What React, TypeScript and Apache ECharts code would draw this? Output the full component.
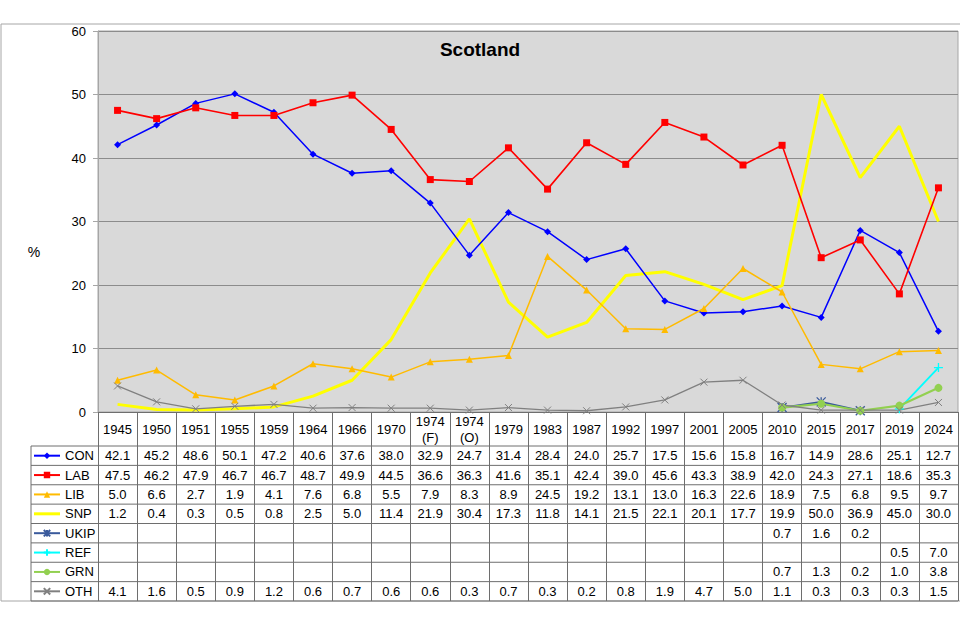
import React, { useEffect, useRef } from "react";
import * as echarts from "echarts";

const categories = ["1945","1950","1951","1955","1959","1964","1966","1970","1974\n(F)","1974\n(O)","1979","1983","1987","1992","1997","2001","2005","2010","2015","2017","2019","2024"];
const CON = [42.1,45.2,48.6,50.1,47.2,40.6,37.6,38.0,32.9,24.7,31.4,28.4,24.0,25.7,17.5,15.6,15.8,16.7,14.9,28.6,25.1,12.7];
const LAB = [47.5,46.2,47.9,46.7,46.7,48.7,49.9,44.5,36.6,36.3,41.6,35.1,42.4,39.0,45.6,43.3,38.9,42.0,24.3,27.1,18.6,35.3];
const LIB = [5.0,6.6,2.7,1.9,4.1,7.6,6.8,5.5,7.9,8.3,8.9,24.5,19.2,13.1,13.0,16.3,22.6,18.9,7.5,6.8,9.5,9.7];
const SNP = [1.2,0.4,0.3,0.5,0.8,2.5,5.0,11.4,21.9,30.4,17.3,11.8,14.1,21.5,22.1,20.1,17.7,19.9,50.0,36.9,45.0,30.0];
const UKIP = [null,null,null,null,null,null,null,null,null,null,null,null,null,null,null,null,null,0.7,1.6,0.2,null,null];
const REF = [null,null,null,null,null,null,null,null,null,null,null,null,null,null,null,null,null,null,null,null,0.5,7.0];
const GRN = [null,null,null,null,null,null,null,null,null,null,null,null,null,null,null,null,null,0.7,1.3,0.2,1.0,3.8];
const OTH = [4.1,1.6,0.5,0.9,1.2,0.6,0.7,0.6,0.6,0.3,0.7,0.3,0.2,0.8,1.9,4.7,5.0,1.1,0.3,0.3,0.3,1.5];
const yTicks = { min: 0, max: 60, interval: 10 };

const FONT = "'Liberation Sans', Arial, sans-serif";

type Row = {
  name: string;
  data: (number | null)[];
  color: string;
  symbol: string;
  size: number;
  width: number;
  border: number;
};

const rows: Row[] = [
  { name: "CON", data: CON, color: "#0000ff", symbol: "diamond", size: 7, width: 1.5, border: 0 },
  { name: "LAB", data: LAB, color: "#ff0000", symbol: "rect", size: 7, width: 1.6, border: 0 },
  { name: "LIB", data: LIB, color: "#ffbb00", symbol: "triangle", size: 7, width: 1.5, border: 0 },
  { name: "SNP", data: SNP, color: "#ffff00", symbol: "none", size: 0, width: 3, border: 0 },
  { name: "UKIP", data: UKIP, color: "#3a5a9c", symbol: "path://M0,0L10,10M10,0L0,10M5,0L5,10", size: 9, width: 1.8, border: 1.3 },
  { name: "REF", data: REF, color: "#00ffff", symbol: "path://M5,0L5,10M0,5L10,5", size: 9, width: 1.8, border: 1.3 },
  { name: "GRN", data: GRN, color: "#92d050", symbol: "circle", size: 8, width: 2.2, border: 0 },
  { name: "OTH", data: OTH, color: "#808080", symbol: "path://M0,0L10,10M10,0L0,10", size: 7, width: 1.3, border: 1 },
];

const GRID_LEFT = 98;
const GRID_RIGHT = 958;
const GRID_TOP = 31;
const GRID_BOTTOM = 412;
const HEADER_H = 34;
const ROW_H = 19.375;
const TABLE_LEFT = 31;
const LINE_COLOR = "#6e6e6e";

export default function App() {
  const ref = useRef<HTMLDivElement>(null);
  useEffect(() => {
    if (!ref.current) return;
    const chart = echarts.init(ref.current, null, { renderer: "svg" });

    const rowTop = (i: number) => GRID_BOTTOM + HEADER_H + i * ROW_H;
    const tableBottom = rowTop(rows.length);

    const xAxes: any[] = [
      {
        type: "category",
        data: categories,
        position: "bottom",
        boundaryGap: true,
        axisLine: { show: true, lineStyle: { color: LINE_COLOR, width: 1 } },
        axisTick: { show: true, length: tableBottom - GRID_BOTTOM, lineStyle: { color: LINE_COLOR, width: 1 } },
        axisLabel: {
          interval: 0,
          margin: HEADER_H / 2,
          verticalAlign: "middle",
          fontSize: 13,
          lineHeight: 16,
          color: "#000",
          fontFamily: FONT,
        },
      },
    ];
    rows.forEach((r, i) => {
      xAxes.push({
        type: "category",
        data: categories,
        position: "bottom",
        offset: rowTop(i) + ROW_H / 2 - GRID_BOTTOM,
        axisLine: { show: false },
        axisTick: { show: false },
        axisLabel: {
          interval: 0,
          margin: 0,
          verticalAlign: "middle",
          fontSize: 13,
          color: "#000",
          fontFamily: FONT,
          formatter: (_v: string, idx: number) => {
            const v = r.data[idx];
            return v == null ? "" : v.toFixed(1);
          },
        },
      });
    });

    const graphics: any[] = [
      {
        type: "rect",
        shape: { x: 1, y: 24, width: 965, height: tableBottom - 24 },
        style: { fill: "none", stroke: "#a6a6a6", lineWidth: 1 },
        z: 0,
      },
      {
        type: "line",
        shape: { x1: TABLE_LEFT, y1: rowTop(0), x2: TABLE_LEFT, y2: tableBottom },
        style: { stroke: LINE_COLOR, lineWidth: 1 },
        z: 10,
      },
      {
        type: "text",
        x: 34,
        y: 252,
        style: { text: "%", fontSize: 14, fill: "#000", fontFamily: FONT, textAlign: "center", textVerticalAlign: "middle" },
        z: 10,
      },
    ];
    for (let i = 0; i <= rows.length; i++) {
      graphics.push({
        type: "line",
        shape: { x1: TABLE_LEFT, y1: rowTop(i), x2: GRID_RIGHT, y2: rowTop(i) },
        style: { stroke: LINE_COLOR, lineWidth: 1 },
        z: 10,
      });
    }

    chart.setOption({
      animation: false,
      backgroundColor: "#ffffff",
      textStyle: { fontFamily: FONT },
      title: {
        text: "Scotland",
        left: "center",
        top: 35,
        textStyle: { fontSize: 19, fontWeight: "bold", color: "#000", fontFamily: FONT },
      },
      grid: {
        left: GRID_LEFT,
        right: 960 - GRID_RIGHT,
        top: GRID_TOP,
        bottom: 629 - GRID_BOTTOM,
        show: true,
        backgroundColor: "#d9d9d9",
        borderColor: "#a6a6a6",
        borderWidth: 1,
      },
      legend: {
        orient: "vertical",
        left: 33,
        top: rowTop(0) + (ROW_H - 14) / 2,
        padding: 0,
        itemWidth: 26,
        itemHeight: 8,
        itemGap: ROW_H - 14,
        selectedMode: false,
        textStyle: { fontSize: 13, lineHeight: 14, height: 14, color: "#000", fontFamily: FONT },
        data: rows.map((r) =>
          r.symbol === "none"
            ? { name: r.name, icon: "path://M0,0L26,0L26,3L0,3Z", itemStyle: { color: r.color } }
            : r.name
        ),
      },
      xAxis: xAxes,
      yAxis: {
        type: "value",
        min: yTicks.min,
        max: yTicks.max,
        interval: yTicks.interval,
        axisLine: { show: true, lineStyle: { color: "#a6a6a6" } },
        axisTick: { show: true, length: 5, lineStyle: { color: "#a6a6a6" } },
        axisLabel: { margin: 12, fontSize: 13, color: "#000", fontFamily: FONT },
        splitLine: { show: true, lineStyle: { color: "#8c8c8c", width: 1 } },
      },
      series: rows.map((r) => ({
        type: "line",
        name: r.name,
        data: r.data,
        xAxisIndex: 0,
        yAxisIndex: 0,
        symbol: r.symbol,
        symbolSize: r.size,
        showSymbol: r.symbol !== "none",
        connectNulls: false,
        lineStyle: { color: r.color, width: r.width },
        itemStyle: { color: r.color, borderColor: r.color, borderWidth: r.border },
        emphasis: { disabled: true },
        z: r.name === "SNP" ? 1 : 2,
      })),
      graphic: graphics,
    });

    return () => chart.dispose();
  }, []);

  return (
    <div
      ref={ref}
      style={{ position: "fixed", left: 0, top: 0, width: 960, height: 629, background: "#fff" }}
    />
  );
}
